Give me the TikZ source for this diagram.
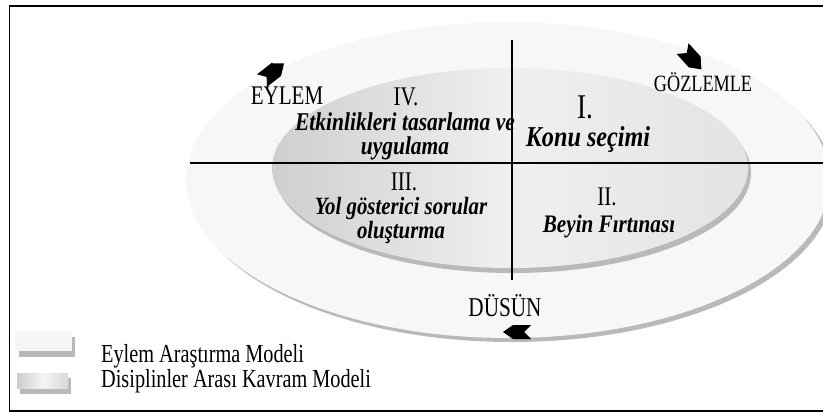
\documentclass[tikz,border=0pt]{standalone}
\usepackage{fontspec}
\setmainfont{Liberation Serif}
\usetikzlibrary{positioning, calc}

\begin{document}
\begin{tikzpicture}[x=0.75pt, y=-0.75pt,
    etiket/.style={font=\fontsize{20.2}{23}\selectfont, inner sep=0pt, xscale=0.78},
    baslik/.style={font=\fontsize{19.2}{18}\selectfont\bfseries\itshape, inner sep=0pt, align=center, xscale=0.84},
    okucu/.style={fill=black},
    golge/.style={fill=gray!55}]
      \useasboundingbox (0,0) rectangle (823,414);
      \draw[line width=1.3pt] (9.5,6) rectangle (830,411);

      % dis elips (eylem arastirma)
      \fill[golge] (512,184) ellipse [x radius=241.5pt, y radius=118.5pt];
      \fill[gray!6] (508,180) ellipse [x radius=241.5pt, y radius=118.5pt];

      % ic elips (disiplinler arasi)
      \fill[golge] (513,173) ellipse [x radius=178.5pt, y radius=75pt];
      \shade[left color=gray!38, right color=gray!22, middle color=gray!12] (510,168) ellipse [x radius=178.5pt, y radius=75pt];

      \coordinate (yatayBas) at (190,163);
      \coordinate (yataySon) at (823,163);
      \coordinate (dikeyBas) at (512,40);
      \coordinate (dikeySon) at (512,280);
      \draw[line width=0.9pt] (yatayBas) -- (yataySon);
      \draw[line width=0.9pt] (dikeyBas) -- (dikeySon);

      \node[etiket] (eylem) at (287,96) {EYLEM};
      \node[etiket, font=\fontsize{17.5}{20}\selectfont] (gozlemle) at (703,82) {GÖZLEMLE};
      \node[etiket, font=\fontsize{20.4}{23}\selectfont] (dusun) at (505,306) {DÜSÜN};

      \node[etiket] (no4) at (406,97) {IV.};
      \node[baslik] (etkinlik) at (405,136) {Etkinlikleri tasarlama ve\\uygulama};
      \node[etiket, font=\fontsize{26}{28}\selectfont] (no1) at (585,107) {I.};
      \node[baslik, font=\fontsize{21.6}{20}\selectfont\bfseries\itshape] (konu) at (588,140) {Konu seçimi};
      \node[etiket] (no3) at (404,182) {III.};
      \node[baslik, font=\fontsize{18.6}{18}\selectfont\bfseries\itshape] (yol) at (401,221) {Yol gösterici sorular\\oluşturma};
      \node[etiket] (no2) at (607,197) {II.};
      \node[baslik, font=\fontsize{18.9}{18}\selectfont\bfseries\itshape] (beyin) at (609,226) {Beyin Fırtınası};

      % yon oklari
      \fill[okucu, shift={(273,72)}, rotate=38] (14,0) -- (4,-8) -- (-14,-8) -- (-8,0) -- (-14,8) -- (4,8) -- cycle;
      \fill[okucu, shift={(692,59)}, rotate=-48] (14,0) -- (4,-8) -- (-14,-8) -- (-8,0) -- (-14,8) -- (4,8) -- cycle;
      \fill[okucu, shift={(517,332)}, rotate=180] (14,0) -- (4,-7) -- (-14,-7) -- (-7,0) -- (-14,7) -- (4,7) -- cycle;

      % lejant
      \fill[golge] (19,337) rectangle (75,357);
      \fill[gray!7] (15,331) rectangle (72,351);
      \fill[golge] (20,378) rectangle (71,394);
      \shade[left color=gray!40, right color=gray!30, middle color=gray!8] (17,373) rectangle (68,388);
      \node[etiket, anchor=west, font=\fontsize{19.5}{23}\selectfont] (lejant1) at (101,356.5) {Eylem Araştırma Modeli};
      \node[etiket, anchor=west, font=\fontsize{19.5}{23}\selectfont] (lejant2) at (101,381.5) {Disiplinler Arası Kavram Modeli};
    \end{tikzpicture}
\end{document}
